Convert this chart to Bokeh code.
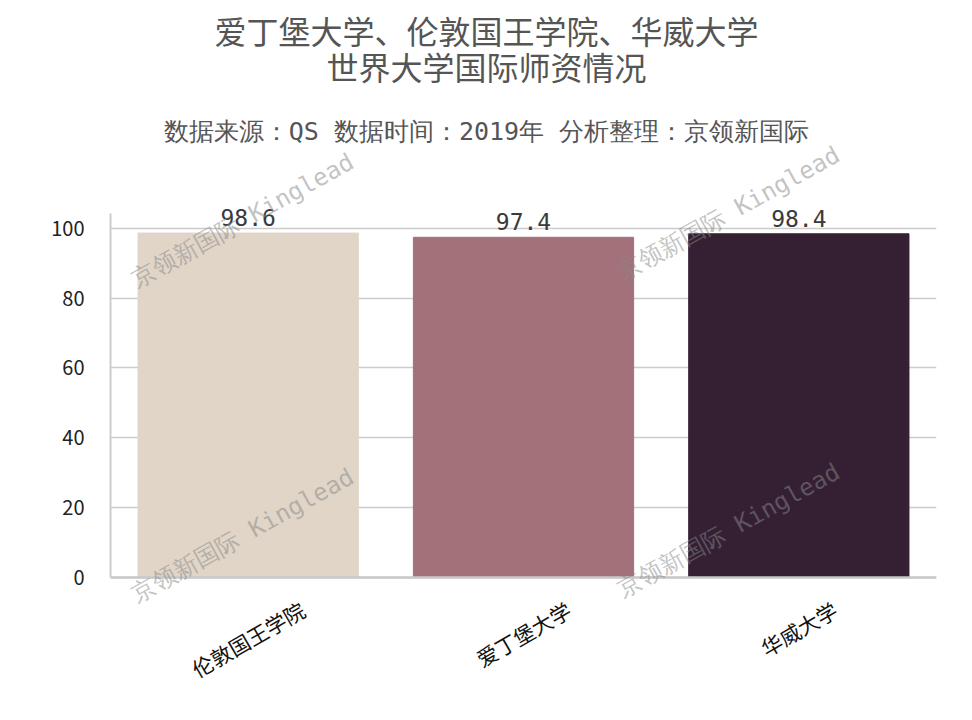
from bokeh.plotting import figure
from bokeh.models import ColumnDataSource, Label, LabelSet, Range1d, FixedTicker
from bokeh.core.properties import value
from bokeh.embed import file_html
from bokeh.resources import INLINE
import math

# data
names = ["伦敦国王学院", "爱丁堡大学", "华威大学"]
scores = [98.6, 97.4, 98.4]
colors = ["#e0d5c7", "#a3717a", "#352033"]
y_ticks = [0, 20, 40, 60, 80, 100]

title_lines = ["爱丁堡大学、伦敦国王学院、华威大学", "世界大学国际师资情况"]
subtitle = "数据来源：QS 数据时间：2019年 分析整理：京领新国际"
watermark = "京领新国际 Kinglead"

CJK = "Noto Sans CJK SC"
MONO = "DejaVu Sans Mono"

# page geometry: the frame spans the full height so that texts
# placed around the axes are not clipped
W, H = 964, 712
LEFT, RIGHT = 110, 936          # frame edges (px)
ZERO_Y = 577                    # pixel row of y = 0
PX = 3.493                      # pixels per y unit
BOTTOM_BORDER = 20


def y_at(row):
    # data y for a pixel row of the page
    return (ZERO_Y - row) / PX


xs = list(range(len(names)))
source = ColumnDataSource(data=dict(
    x=xs,
    top=scores,
    color=colors,
    label=["%.1f" % v for v in scores],
))

p = figure(width=W, height=H, output_backend="svg", toolbar_location=None, title=None,
           x_range=Range1d(-0.5, len(names) - 0.5),
           y_range=Range1d(y_at(H - BOTTOM_BORDER), y_at(0)),
           min_border_left=LEFT, min_border_right=W - RIGHT,
           min_border_top=0, min_border_bottom=BOTTOM_BORDER)

p.outline_line_color = None
p.background_fill_color = "white"
p.border_fill_color = "white"

# bars
p.vbar(x="x", top="top", width=0.8, color="color", source=source)

# value labels above bars
p.add_layout(LabelSet(x="x", y="top", text="label", source=source,
                      y_offset=7, text_align="center", text_baseline="alphabetic",
                      text_font=value(MONO), text_font_size="23px",
                      text_color="#3a3a3a"))

# axes
p.xgrid.grid_line_color = None
p.ygrid.grid_line_color = "#cccccc"
p.ygrid.grid_line_width = 1.5
p.yaxis.ticker = FixedTicker(ticks=y_ticks)
p.yaxis.bounds = (0, y_at(213))
p.yaxis.axis_line_color = "#cccccc"
p.yaxis.axis_line_width = 2
p.yaxis.major_tick_line_color = None
p.yaxis.minor_tick_line_color = None
p.yaxis.major_label_standoff = 20
p.yaxis.major_label_text_font = CJK
p.yaxis.major_label_text_font_size = "20px"
p.yaxis.major_label_text_color = "#222222"

# bottom spine at y = 0; category names are drawn below as rotated labels
p.xaxis.fixed_location = 0
p.xaxis.ticker = FixedTicker(ticks=[])
p.xaxis.axis_line_color = "#c8c8c8"
p.xaxis.axis_line_width = 2.5
p.xaxis.major_tick_line_color = None
p.xaxis.minor_tick_line_color = None

# rotated category labels, centred under each bar
fs = 21
for i, name in enumerate(names):
    w = len(name) * fs
    bh = w * math.sin(math.radians(30)) + fs * math.cos(math.radians(30))
    p.add_layout(Label(x=i, y=y_at(598 + bh / 2), text=name,
                       angle=30, angle_units="deg",
                       text_align="center", text_baseline="middle",
                       text_font=CJK, text_font_size="%dpx" % fs,
                       text_color="#111111"))

# titles
mid = 486 - LEFT
for row, txt, font, size in [(29, title_lines[0], CJK, "32px"),
                             (65, title_lines[1], CJK, "32px"),
                             (131, subtitle, MONO, "25px")]:
    p.add_layout(Label(x=mid, y=y_at(row), x_units="screen",
                       text=txt, text_align="center", text_baseline="middle",
                       text_font=font, text_font_size=size, text_color="#555555"))

# watermarks
for cx, row in [(242, 220), (242, 535), (728, 213), (728, 530)]:
    p.add_layout(Label(x=cx - LEFT, y=y_at(row), x_units="screen",
                       text=watermark, angle=29, angle_units="deg",
                       text_align="center", text_baseline="middle",
                       text_font=MONO, text_font_size="24px",
                       text_color="#888888", text_alpha=0.5))

open("out.html", "w").write(file_html(p, INLINE))
